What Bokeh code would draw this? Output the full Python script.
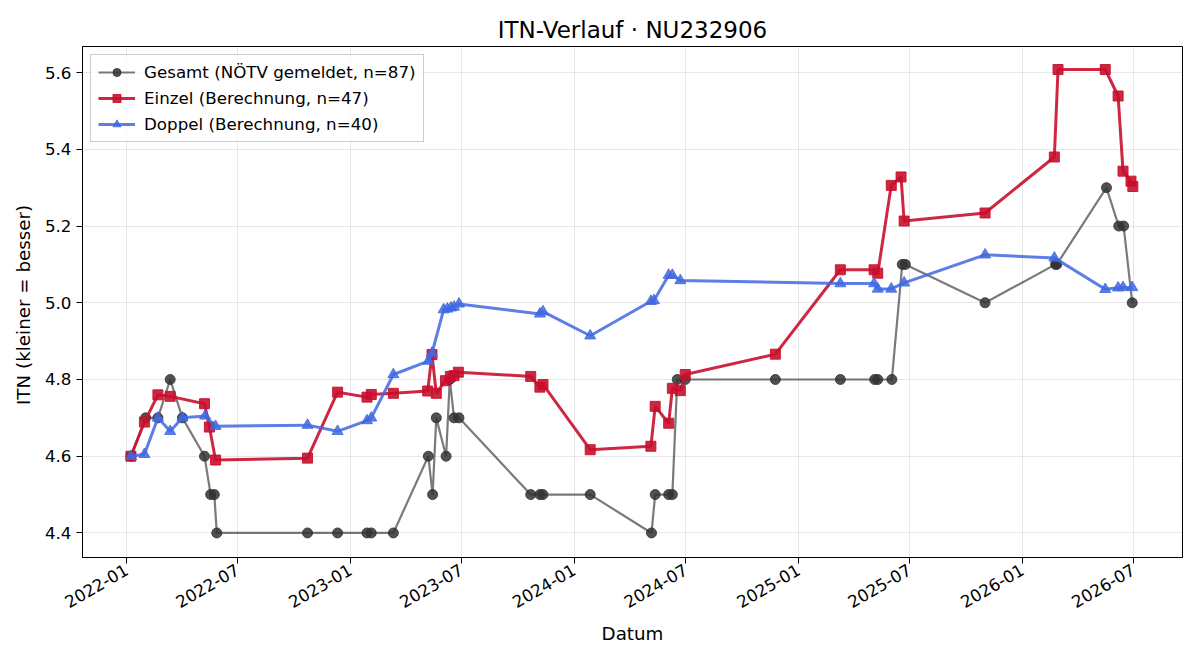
import math
import pandas as pd
from bokeh.plotting import figure
from bokeh.models import FixedTicker, DatetimeTickFormatter, Range1d, Legend, LegendItem, NumeralTickFormatter
from bokeh.embed import file_html
from bokeh.resources import INLINE

# ---------------- data ----------------
gesamt_dates = ["2022-01-08", "2022-02-01", "2022-02-21", "2022-03-13", "2022-04-02", "2022-05-08",
                "2022-05-18", "2022-05-24", "2022-05-28", "2022-10-23", "2022-12-11", "2023-01-28",
                "2023-02-04", "2023-03-12", "2023-05-08", "2023-05-15", "2023-05-21", "2023-06-06",
                "2023-06-12", "2023-06-19", "2023-06-27", "2023-10-22", "2023-11-06", "2023-11-11",
                "2024-01-27", "2024-05-06", "2024-05-12", "2024-06-03", "2024-06-09", "2024-06-17",
                "2024-06-30", "2024-11-24", "2025-03-10", "2025-05-05", "2025-05-10", "2025-06-02",
                "2025-06-19", "2025-06-24", "2025-11-01", "2026-02-24", "2026-02-26", "2026-05-18",
                "2026-06-07", "2026-06-15", "2026-06-29"]
gesamt_itn = [4.6, 4.7, 4.7, 4.8, 4.7, 4.6,
              4.5, 4.5, 4.4, 4.4, 4.4, 4.4,
              4.4, 4.4, 4.6, 4.5, 4.7, 4.6,
              4.8, 4.7, 4.7, 4.5, 4.5, 4.5,
              4.5, 4.4, 4.5, 4.5, 4.5, 4.8,
              4.8, 4.8, 4.8, 4.8, 4.8, 4.8,
              5.1, 5.1, 5.0, 5.1, 5.1, 5.3,
              5.2, 5.2, 5.0]

einzel_dates = ["2022-01-08", "2022-01-30", "2022-02-21", "2022-03-13", "2022-05-08", "2022-05-16",
                "2022-05-26", "2022-10-23", "2022-12-11", "2023-01-28", "2023-02-04", "2023-03-12",
                "2023-05-07", "2023-05-14", "2023-05-21", "2023-06-05", "2023-06-13", "2023-06-19",
                "2023-06-26", "2023-10-22", "2023-11-06", "2023-11-11", "2024-01-27", "2024-05-05",
                "2024-05-12", "2024-06-03", "2024-06-09", "2024-06-22", "2024-06-30", "2024-11-24",
                "2025-03-10", "2025-05-04", "2025-05-10", "2025-06-01", "2025-06-17", "2025-06-22",
                "2025-11-01", "2026-02-22", "2026-02-28", "2026-05-16", "2026-06-06", "2026-06-14",
                "2026-06-27", "2026-06-30"]
einzel_itn = [4.600, 4.689, 4.760, 4.756, 4.737, 4.676,
              4.590, 4.595, 4.767, 4.754, 4.761, 4.764,
              4.770, 4.865, 4.764, 4.797, 4.808, 4.810,
              4.819, 4.808, 4.780, 4.787, 4.617, 4.626,
              4.730, 4.686, 4.777, 4.771, 4.813, 4.866,
              5.086, 5.086, 5.077, 5.306, 5.328, 5.213,
              5.234, 5.380, 5.608, 5.608, 5.539, 5.343,
              5.317, 5.303]

doppel_dates = ["2022-01-08", "2022-01-30", "2022-02-21", "2022-03-13", "2022-04-02", "2022-05-09",
                "2022-05-26", "2022-10-23", "2022-12-11", "2023-01-28", "2023-02-04", "2023-03-12",
                "2023-05-08", "2023-05-14", "2023-06-02", "2023-06-08", "2023-06-14", "2023-06-19",
                "2023-06-27", "2023-11-06", "2023-11-11", "2024-01-27", "2024-05-05", "2024-05-10",
                "2024-06-03", "2024-06-09", "2024-06-22", "2025-03-10", "2025-05-04", "2025-05-10",
                "2025-06-01", "2025-06-22", "2025-11-01", "2026-02-22", "2026-05-16", "2026-06-06",
                "2026-06-14", "2026-06-29"]
doppel_itn = [4.600, 4.605, 4.700, 4.665, 4.700, 4.705,
              4.678, 4.681, 4.665, 4.693, 4.700, 4.813,
              4.848, 4.869, 4.982, 4.984, 4.987, 4.989,
              4.997, 4.971, 4.977, 4.914, 5.004, 5.006,
              5.072, 5.072, 5.058, 5.050, 5.050, 5.036,
              5.036, 5.052, 5.125, 5.117, 5.035, 5.039,
              5.040, 5.040]

x_tick_labels = ["2022-01", "2022-07", "2023-01", "2023-07", "2024-01",
                 "2024-07", "2025-01", "2025-07", "2026-01", "2026-07"]
y_ticks = [4.4, 4.6, 4.8, 5.0, 5.2, 5.4, 5.6]

title = "ITN-Verlauf · NU232906"
x_label = "Datum"
y_label = "ITN  (kleiner = besser)"
label_g = "Gesamt (NÖTV gemeldet, n=87)"
label_e = "Einzel (Berechnung, n=47)"
label_d = "Doppel (Berechnung, n=40)"

# ---------------- figure ----------------
FONT = "DejaVu Sans"
FS = "16.7px"

def ms(s):
    return pd.Timestamp(s).value / 1e6

p = figure(width=1200, height=660, x_axis_type="datetime", output_backend="svg",
           toolbar_location=None, title=title,
           x_range=Range1d(ms("2021-10-21"), ms("2026-09-19")),
           y_range=Range1d(4.336, 5.668),
           min_border_left=82, min_border_right=18, min_border_top=46, min_border_bottom=103)

p.title.align = "center"
p.title.text_font = FONT
p.title.text_font_size = "23px"
p.title.text_font_style = "normal"
p.title.text_color = "black"
p.title.standoff = 8

gx = pd.to_datetime(gesamt_dates)
ex = pd.to_datetime(einzel_dates)
dx = pd.to_datetime(doppel_dates)

GRAY = "#333333"
RED = "#c8102e"
BLUE = "#4169e1"

lg = p.line(gx, gesamt_itn, line_color=GRAY, line_alpha=0.65, line_width=2.2)
sg = p.scatter(gx, gesamt_itn, marker="circle", size=10, fill_color=GRAY, fill_alpha=0.85,
               line_color=GRAY, line_alpha=0.85)
le = p.line(ex, einzel_itn, line_color=RED, line_alpha=0.9, line_width=3)
se = p.scatter(ex, einzel_itn, marker="square", size=10, fill_color=RED, fill_alpha=0.9,
               line_color=RED, line_alpha=0.9)
ld = p.line(dx, doppel_itn, line_color=BLUE, line_alpha=0.85, line_width=3)
sd = p.scatter(dx, doppel_itn, marker="triangle", size=11, fill_color=BLUE, fill_alpha=0.85,
               line_color=BLUE, line_alpha=0.85)

legend = Legend(items=[LegendItem(label=label_g, renderers=[lg, sg]),
                       LegendItem(label=label_e, renderers=[le, se]),
                       LegendItem(label=label_d, renderers=[ld, sd])],
                location="top_left")
legend.margin = 8
legend.padding = 7
legend.spacing = 6
legend.glyph_width = 37
legend.glyph_height = 20
legend.label_height = 20
legend.label_standoff = 9
legend.label_text_font = FONT
legend.label_text_font_size = FS
legend.label_text_color = "black"
legend.border_line_color = "#cccccc"
legend.border_line_alpha = 1.0
legend.background_fill_alpha = 0.8
p.add_layout(legend)

# axes
p.xaxis.ticker = FixedTicker(ticks=[ms(t + "-01") for t in x_tick_labels])
p.xaxis.formatter = DatetimeTickFormatter(years="%Y-%m", months="%Y-%m", days="%Y-%m",
                                          hours="%Y-%m", minutes="%Y-%m")
p.xaxis.major_label_orientation = math.pi / 6
p.yaxis.ticker = FixedTicker(ticks=y_ticks)
p.yaxis.formatter = NumeralTickFormatter(format="0.0")

for ax in (p.xaxis, p.yaxis):
    ax.axis_line_color = "black"
    ax.major_tick_line_color = "black"
    ax.major_tick_out = 6
    ax.major_tick_in = 0
    ax.minor_tick_line_color = None
    ax.major_label_text_font = FONT
    ax.major_label_text_font_size = FS
    ax.major_label_text_color = "black"
    ax.axis_label_text_font = FONT
    ax.axis_label_text_font_size = "18.3px"
    ax.axis_label_text_font_style = "normal"
    ax.axis_label_text_color = "black"

p.xaxis.axis_label = x_label
p.yaxis.axis_label = y_label
p.xaxis.major_label_standoff = 5
p.yaxis.major_label_standoff = 5
p.xaxis.axis_label_standoff = 6
p.yaxis.axis_label_standoff = 8

p.xgrid.ticker = p.xaxis.ticker
p.ygrid.ticker = p.yaxis.ticker
p.grid.grid_line_color = "#b0b0b0"
p.grid.grid_line_alpha = 0.3
p.grid.grid_line_width = 1

p.outline_line_color = "black"
p.outline_line_alpha = 1.0
p.outline_line_width = 1
p.background_fill_color = "white"
p.border_fill_color = "white"

open("out.html", "w").write(file_html(p, INLINE))
